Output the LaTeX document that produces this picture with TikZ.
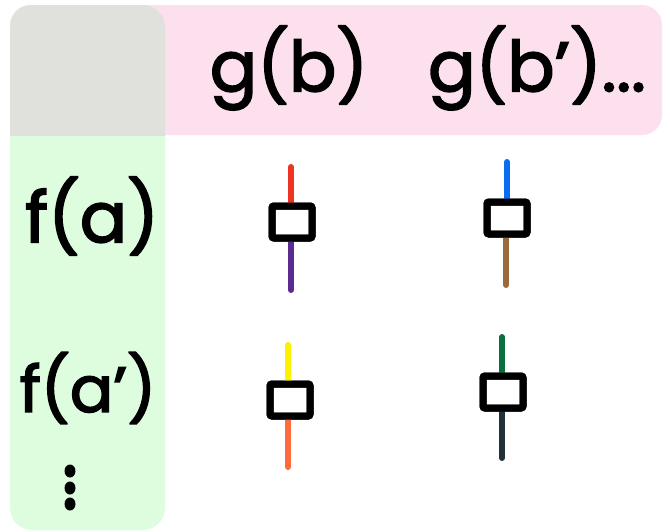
\documentclass[tikz,border=0pt]{standalone}
\usepackage{fontspec}
\setmainfont{Poppins}
\newfontfamily\handfont{Poppins}[FakeBold=2.5]
\definecolor{hdrpink}{HTML}{FDE0EE}
\definecolor{colgreen}{HTML}{DEFCDE}
\definecolor{cornergray}{HTML}{E0E0DC}
\definecolor{wred}{HTML}{EE3322}
\definecolor{wpurple}{HTML}{5B2C8F}
\definecolor{wblue}{HTML}{0A6CF0}
\definecolor{wbrown}{HTML}{9A6A3A}
\definecolor{wyellow}{HTML}{FFF200}
\definecolor{worange}{HTML}{FF6A3D}
\definecolor{wgreen}{HTML}{0A7040}
\definecolor{wdark}{HTML}{22313A}
\usetikzlibrary{shapes.geometric}
\tikzset{
  x=1pt, y=-1pt,
  label/.style={font=\handfont\fontsize{70}{70}\selectfont, inner sep=0pt, text=black},
  boxnode/.style={draw=black, line width=7pt, minimum width=40pt, minimum height=32pt,
                  inner sep=0pt, rounded corners=2pt, fill=white},
  wire/.style={line width=6pt, line cap=round},
  dotmark/.style={fill=black, ellipse, minimum width=11pt, minimum height=13pt, inner sep=0pt},
}
\begin{document}
\begin{tikzpicture}
\useasboundingbox (0,0) rectangle (670,531);
\fill[white] (0,0) rectangle (670,531);
% header band
\fill[hdrpink, rounded corners=20pt] (10,5) rectangle (662,135);
% left column
\fill[colgreen, rounded corners=22pt] (10,5) rectangle (165,530);
% overlap corner
\begin{scope}
\clip (10,5) rectangle (165,135);
\fill[cornergray, rounded corners=22pt] (10,5) rectangle (165,160);
\end{scope}
% header labels
\node[label] (gb) at (289,68) {g(b)};
\node[label, anchor=west] (gbp) at (428,68) {g(b’)...};
% row labels
\node[label] (fa) at (92,216) {f(a)};
\node[label, font=\handfont\fontsize{64}{64}\selectfont] (fap) at (88,388) {f(a’)};
% vertical ellipsis
\node[dotmark] (d1) at (70,471) {};
\node[dotmark] (d2) at (70,488) {};
\node[dotmark] (d3) at (70,504) {};
% boxes
\node[boxnode] (b1) at (292,222) {};
\node[boxnode] (b2) at (507,218) {};
\node[boxnode] (b3) at (290,400) {};
\node[boxnode] (b4) at (503,392) {};
% wire ends
\coordinate (t1) at (291,167);
\coordinate (u1) at (291,290);
\coordinate (t2) at (507,162);
\coordinate (u2) at (506,285);
\coordinate (t3) at (288,345);
\coordinate (u3) at (288,467);
\coordinate (t4) at (502,337);
\coordinate (u4) at (502,458);
% wires
\draw[wire, wred] (t1) -- (b1.north -| t1);
\draw[wire, wpurple] (b1.south -| u1) -- (u1);
\draw[wire, wblue] (t2) -- (b2.north -| t2);
\draw[wire, wbrown] (b2.south -| u2) -- (u2);
\draw[wire, wyellow] (t3) -- (b3.north -| t3);
\draw[wire, worange] (b3.south -| u3) -- (u3);
\draw[wire, wgreen] (t4) -- (b4.north -| t4);
\draw[wire, wdark] (b4.south -| u4) -- (u4);
% redraw boxes on top
\node[boxnode, fill=none] at (b1) {};
\node[boxnode, fill=none] at (b2) {};
\node[boxnode, fill=none] at (b3) {};
\node[boxnode, fill=none] at (b4) {};
\end{tikzpicture}
\end{document}
